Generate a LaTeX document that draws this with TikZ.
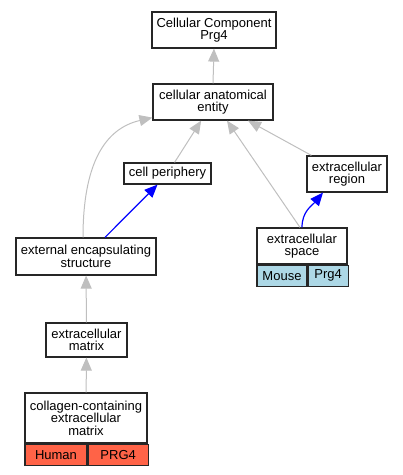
\documentclass[tikz,border=0pt]{standalone}
\usepackage{fontspec}
\setmainfont{Liberation Sans}
\usetikzlibrary{arrows.meta,positioning}
\definecolor{cellblue}{HTML}{ADD8E6}
\definecolor{celltomato}{HTML}{FF6347}

\begin{document}
\begin{tikzpicture}[x=1pt, y=-1pt, every loop/.style={},
    main node/.style={rectangle,draw=black!85,line width=1.2pt,fill=white,align=center,inner sep=0pt,font=\fontsize{13}{12.5}\selectfont},
    cell node/.style={main node,minimum height=21pt,anchor=north west},
    isa/.style={draw=black!25,line width=1pt,-{Triangle[length=13pt,width=11pt]}},
    partof/.style={draw=blue,line width=1.2pt,-{Triangle[length=13pt,width=11pt]}}]
            \useasboundingbox (0,0) rectangle (403,475);
            \node[main node, minimum width=124pt, minimum height=36pt] (cc) at (214,30) {Cellular Component\\Prg4};
            \node[main node, minimum width=120pt, minimum height=36pt] (cae) at (213,102) {cellular anatomical\\entity};
            \node[main node, minimum width=87pt, minimum height=21pt] (cp) at (167.5,173.5) {cell periphery};
            \node[main node, minimum width=80pt, minimum height=36pt] (er) at (347,174) {extracellular\\region};
            \node[main node, minimum width=140pt, minimum height=37pt] (ees) at (86,256.5) {external encapsulating\\structure};
            \node[main node, minimum width=90pt, minimum height=36pt] (es) at (302,246) {extracellular\\space};
            \node[cell node, fill=cellblue, minimum width=50pt] (esm) at (es.south west) {Mouse};
            \node[cell node, fill=cellblue, minimum width=40pt] (esp) at (esm.north east) {Prg4};
            \node[main node, minimum width=81pt, minimum height=34pt] (ecm) at (86.5,340) {extracellular\\matrix};
            \node[main node, minimum width=122pt, minimum height=50pt] (col) at (86,418) {collagen-containing\\extracellular\\matrix};
            \node[cell node, fill=celltomato, minimum width=62pt] (colh) at (col.south west) {Human};
            \node[cell node, fill=celltomato, minimum width=60pt] (colp) at (colh.north east) {PRG4};

            \path[every edge/.style=isa]
                (cae.north) edge (cc.south)
                (cp) edge (cae)
                ([xshift=-2pt]es.north) edge ([xshift=14pt]cae.south)
                ([xshift=5pt]er.north west) edge ([xshift=35pt]cae.south)
                (ecm) edge (ees)
                (col) edge (ecm)
                ([xshift=-3pt]ees.north) edge[to path={.. controls +(0,-73) and +(-48,11) .. (\tikztotarget)}] ([yshift=3pt]cae.south west);

            \path[every edge/.style=partof]
                ([xshift=19pt]ees.north) edge ([xshift=-10pt]cp.south)
                (es.north) edge[to path={.. controls +(0,-16) and +(-11,13) .. (\tikztotarget)}] ([xshift=-24pt]er.south);
        \end{tikzpicture}
\end{document}
